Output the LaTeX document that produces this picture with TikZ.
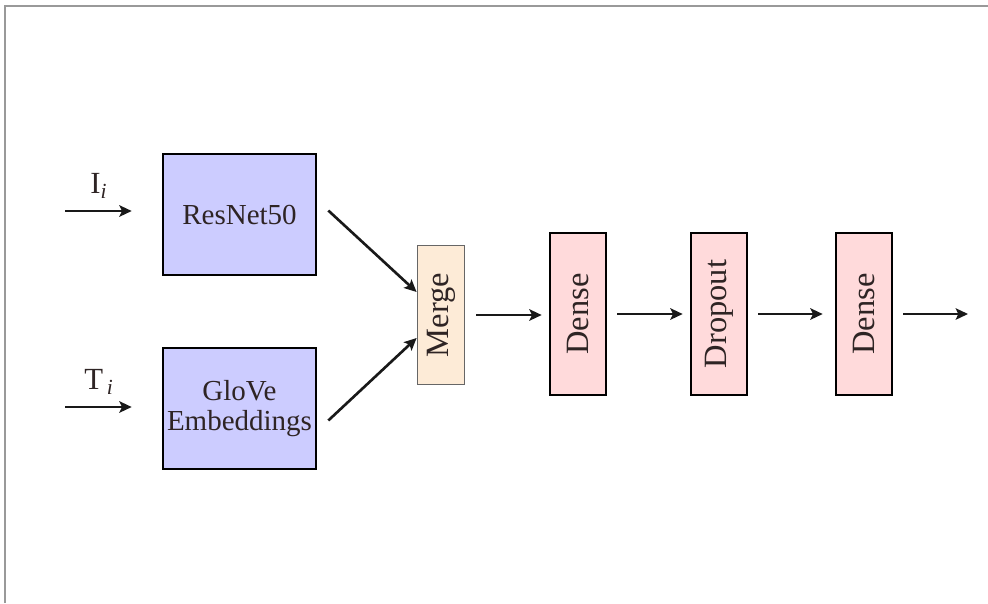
\documentclass[tikz,border=0pt]{standalone}
\usepackage{fontspec}
\setmainfont{Liberation Serif}
\usepackage{graphicx}
\usetikzlibrary{positioning, arrows.meta}
\definecolor{blockblue}{HTML}{CCCCFF}
\definecolor{blockpink}{HTML}{FFDADB}
\definecolor{blockpeach}{HTML}{FDEBD7}
\definecolor{textdark}{HTML}{2E2424}
\tikzset {
    >={Stealth[length=7pt, width=6.5pt, inset=1.5pt]},
    arr/.style={->, line width=1.5pt, black!90},
    encoder/.style={draw, line width=1.5pt, fill=blockblue, minimum width=3.06cm,
        minimum height=2.42cm, inner sep=1pt, align=center, text=textdark, font=\fontsize{16.5}{18}\selectfont},
    layer/.style={draw, line width=1.5pt, fill=blockpink, minimum width=1.12cm,
        minimum height=3.24cm, inner sep=0pt, text=textdark, font=\fontsize{18.5}{20}\selectfont},
    mergebox/.style={draw=black!60, line width=1pt, fill=blockpeach, minimum width=0.94cm,
        minimum height=2.78cm, inner sep=0pt, text=textdark, font=\fontsize{18.5}{20}\selectfont},
    inlabel/.style={text=textdark, font=\fontsize{17.5}{18}\selectfont}
}
\begin{document}
\begin{tikzpicture}[x=0.02cm, y=-0.02cm]
    \useasboundingbox (0,0) rectangle (988,603);
    \draw[black!40, line width=1pt] (5,603) -- (5,6) -- (988,6);

    \node[encoder] (res) at (239.5,214.5) {ResNet50};
    \node[encoder] (glove) at (239.5,408.5) {GloVe\\[-1pt]Embeddings};
    \node[mergebox] (merge) at (441,315) {\rotatebox{90}{Merge}};
    \node[layer] (dense1) at (578,314) {\rotatebox{90}{Dense}};
    \node[layer] (drop) at (719,314) {\rotatebox{90}{Dropout}};
    \node[layer] (dense2) at (864,314) {\rotatebox{90}{Dense}};

    \coordinate (iin) at (65,211);
    \coordinate (tin) at (65,407);
    \coordinate (out) at (968,314);

    \node[inlabel] (ilab) at (99,186) {I\textsubscript{\textit{i}}};
    \node[inlabel] (tlab) at (99,382) {T\textsubscript{\,\textit{i}}};

    \draw[arr] (iin) -- ([xshift=-0.6cm]iin -| res.west);
    \draw[arr] (tin) -- ([xshift=-0.6cm]tin -| glove.west);
    \draw[arr] ([xshift=0.22cm, yshift=0.08cm]res.east) -- ([yshift=0.46cm]merge.west);
    \draw[arr] ([xshift=0.22cm, yshift=-0.24cm]glove.east) -- ([yshift=-0.46cm]merge.west);
    \draw[arr, shorten <=0.22cm, shorten >=0.14cm] (merge.east) -- (dense1.west |- merge.east);
    \draw[arr, shorten <=0.2cm, shorten >=0.14cm] (dense1) -- (drop);
    \draw[arr, shorten <=0.2cm, shorten >=0.24cm] (drop) -- (dense2);
    \draw[arr, shorten <=0.2cm] (dense2.east) -- (out);
\end{tikzpicture}
\end{document}
